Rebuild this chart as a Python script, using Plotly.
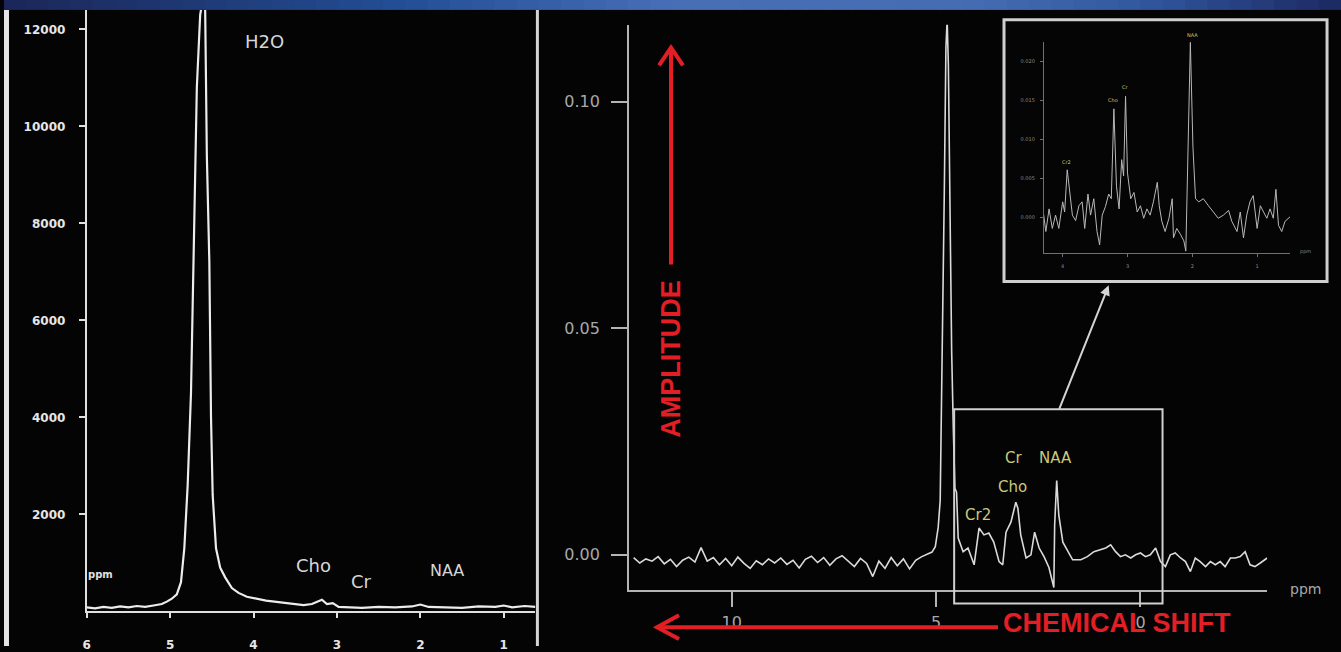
import plotly.graph_objects as go

W, H = 1341, 652

# ---------------- data ----------------
left_ppm = [6.00, 5.90, 5.80, 5.70, 5.60, 5.50, 5.40, 5.30, 5.20, 5.10,
            5.04, 4.98, 4.92, 4.87, 4.83, 4.79, 4.75, 4.72, 4.70, 4.68,
            4.64, 4.61, 4.58, 4.56, 4.53, 4.51, 4.49, 4.45, 4.40, 4.34,
            4.26, 4.18, 4.08, 3.97, 3.85, 3.70, 3.55, 3.40, 3.30, 3.22,
            3.18, 3.12, 3.05, 2.98, 2.90, 2.70, 2.50, 2.30, 2.10, 2.00,
            1.90, 1.70, 1.50, 1.30, 1.10, 1.00, 0.90, 0.75, 0.62]
left_signal = [80, 60, 90, 70, 100, 80, 110, 90, 120, 150,
               200, 260, 350, 600, 1300, 2600, 4500, 7200, 8700, 10800,
               12300, 12600, 12400, 9400, 7200, 4000, 2400, 1300, 900, 700,
               480, 380, 300, 260, 220, 190, 160, 130, 150, 210,
               240, 150, 170, 90, 80, 70, 90, 80, 100, 140,
               90, 80, 70, 100, 90, 120, 80, 110, 90]

right_ppm = [12.40, 12.25, 12.10, 11.95, 11.80, 11.65, 11.50, 11.35, 11.20, 11.05,
             10.90, 10.75, 10.60, 10.45, 10.30, 10.15, 10.00, 9.85, 9.70, 9.55,
             9.40, 9.25, 9.10, 8.95, 8.80, 8.65, 8.50, 8.35, 8.20, 8.05,
             7.90, 7.75, 7.60, 7.45, 7.30, 7.15, 7.00, 6.85, 6.70, 6.55,
             6.40, 6.25, 6.10, 5.95, 5.80, 5.65, 5.50, 5.35, 5.22, 5.10,
             5.02, 4.95, 4.90, 4.85, 4.80, 4.76, 4.73, 4.70, 4.66, 4.62,
             4.58, 4.54, 4.50, 4.46, 4.34, 4.22, 4.07, 3.95, 3.83, 3.71,
             3.59, 3.46, 3.37, 3.29, 3.17, 3.05, 3.00, 2.93, 2.80, 2.68,
             2.59, 2.48, 2.36, 2.24, 2.12, 2.10, 2.05, 2.00, 1.90, 1.78,
             1.66, 1.46, 1.30, 1.14, 0.98, 0.85, 0.73, 0.61, 0.49, 0.37,
             0.24, 0.12, 0.00, -0.12, -0.24, -0.37, -0.49, -0.61, -0.73, -0.85,
             -0.98, -1.10, -1.22, -1.34, -1.46, -1.59, -1.71, -1.83, -1.95, -2.07,
             -2.20, -2.32, -2.44, -2.56, -2.68, -2.80, -2.93, -3.10]
right_amp = [-0.0006, -0.0018, -0.0009, -0.0014, -0.0004, -0.0020, -0.0010, -0.0026, -0.0012, -0.0005,
             -0.0016, 0.0016, -0.0014, -0.0006, -0.0022, -0.0008, -0.0024, -0.0005, -0.0019, -0.0030,
             -0.0013, -0.0022, -0.0009, -0.0018, -0.0007, -0.0021, -0.0012, -0.0029, -0.0010, -0.0003,
             -0.0017, -0.0006, -0.0023, -0.0009, -0.0002, -0.0015, -0.0026, -0.0008, -0.0019, -0.0048,
             -0.0014, -0.0030, -0.0006, -0.0024, -0.0009, -0.0031, -0.0012, -0.0004, 0.0002, 0.0006,
             0.0018, 0.0060, 0.0120, 0.0420, 0.0800, 0.1120, 0.1180, 0.1080, 0.0700, 0.0450,
             0.0280, 0.0147, 0.0138, 0.0037, 0.0007, 0.0015, -0.0022, 0.0059, 0.0044, 0.0048,
             0.0028, -0.0015, -0.0022, 0.0050, 0.0072, 0.0116, 0.0103, 0.0044, -0.0007, 0.0000,
             0.0050, 0.0015, -0.0004, -0.0028, -0.0072, 0.0066, 0.0164, 0.0088, 0.0028, 0.0007,
             -0.0011, -0.0011, -0.0004, 0.0007, 0.0011, 0.0015, 0.0022, 0.0007, -0.0004, 0.0000,
             -0.0007, 0.0000, 0.0004, -0.0004, 0.0000, 0.0015, -0.0015, -0.0026, 0.0000, 0.0004,
             -0.0007, -0.0015, -0.0037, -0.0007, -0.0015, -0.0026, -0.0015, -0.0022, -0.0015, -0.0026,
             -0.0007, -0.0007, -0.0004, 0.0007, -0.0022, -0.0026, -0.0018, -0.0007]

inset_ppm = [4.31, 4.26, 4.21, 4.16, 4.11, 4.06, 4.00, 3.97, 3.93, 3.89,
             3.85, 3.80, 3.75, 3.70, 3.66, 3.61, 3.57, 3.52, 3.47, 3.43,
             3.39, 3.34, 3.29, 3.25, 3.21, 3.17, 3.13, 3.09, 3.06, 3.03,
             3.00, 2.95, 2.90, 2.85, 2.80, 2.75, 2.70, 2.65, 2.60, 2.54,
             2.51, 2.47, 2.42, 2.36, 2.31, 2.29, 2.24, 2.18, 2.13, 2.10,
             2.06, 2.03, 1.99, 1.95, 1.90, 1.83, 1.75, 1.67, 1.60, 1.52,
             1.44, 1.39, 1.31, 1.26, 1.21, 1.16, 1.11, 1.06, 1.00, 0.95,
             0.90, 0.85, 0.80, 0.75, 0.71, 0.67, 0.62, 0.57, 0.49]
inset_amp = [0.0014, -0.0018, 0.0011, -0.0014, 0.0003, -0.0014, 0.0020, 0.0007, 0.0061, 0.0028,
             0.0003, -0.0004, 0.0015, 0.0020, -0.0014, 0.0030, 0.0003, 0.0024, -0.0018, -0.0035,
             0.0003, 0.0014, 0.0030, 0.0024, 0.0139, 0.0040, 0.0011, 0.0074, 0.0053, 0.0155,
             0.0057, 0.0024, 0.0032, 0.0007, 0.0015, -0.0001, 0.0011, 0.0003, 0.0020, 0.0045,
             0.0015, -0.0005, -0.0018, -0.0001, 0.0024, -0.0026, -0.0014, -0.0022, -0.0030, -0.0043,
             0.0090, 0.0224, 0.0090, 0.0024, 0.0020, 0.0024, 0.0015, 0.0007, -0.0001, 0.0003,
             0.0009, -0.0005, -0.0018, 0.0007, -0.0026, 0.0003, 0.0020, 0.0028, -0.0014, 0.0015,
             0.0007, -0.0001, 0.0011, -0.0001, 0.0036, -0.0010, -0.0018, -0.0005, 0.0001]

left_xticks = [6, 5, 4, 3, 2, 1]
left_yticks = [2000, 4000, 6000, 8000, 10000, 12000]
right_xticks = [10, 5, 0]
right_yticks = [0.00, 0.05, 0.10]
right_ytext = ["0.00", "0.05", "0.10"]
inset_xticks = [4, 3, 2, 1]
inset_yticks = [0.000, 0.005, 0.010, 0.015, 0.020]
inset_ytext = ["0.000", "0.005", "0.010", "0.015", "0.020"]

left_peak_names = ["H2O", "Cho", "Cr", "NAA"]
metabolite_names = ["Cr2", "Cho", "Cr", "NAA"]
axis_titles = ["AMPLITUDE", "CHEMICAL SHIFT"]


# ---------------- helpers ----------------
def px(x):
    return x / W


def py(y):
    return 1 - y / H


RED = "#e31e25"
YEL = "#c9c97a"

fig = go.Figure()
fig.add_trace(go.Scatter(x=left_ppm, y=left_signal, mode="lines",
                         line=dict(color="#ececec", width=2.2),
                         xaxis="x", yaxis="y", showlegend=False, hoverinfo="skip"))
fig.add_trace(go.Scatter(x=right_ppm, y=right_amp, mode="lines",
                         line=dict(color="#dadada", width=1.6),
                         xaxis="x2", yaxis="y2", showlegend=False, hoverinfo="skip"))
fig.add_trace(go.Scatter(x=inset_ppm, y=inset_amp, mode="lines",
                         line=dict(color="#b8b8b8", width=1),
                         xaxis="x3", yaxis="y3", showlegend=False, hoverinfo="skip"))

left_font = dict(family="DejaVu Sans", size=12, color="#e6e6e6", weight="bold")
right_font = dict(family="DejaVu Sans", size=16, color="#a8a8a8")
inset_font = dict(family="DejaVu Sans", size=5, color="#8a8a8a")

common = dict(showgrid=False, zeroline=False, showline=True, ticks="outside", fixedrange=True)

fig.update_layout(
    width=W, height=H, autosize=False,
    margin=dict(l=0, r=0, t=0, b=0),
    paper_bgcolor="#040404", plot_bgcolor="rgba(0,0,0,0)",
    xaxis=dict(domain=[px(83), px(533)], range=[6.0, 0.62], anchor="y",
               tickvals=left_xticks, ticktext=[str(v) for v in left_xticks],
               linecolor="#e0e0e0", linewidth=2, tickcolor="#e0e0e0", tickwidth=2, ticklen=5,
               tickfont=left_font, ticklabelstandoff=16, **common),
    yaxis=dict(domain=[py(617), py(10)], range=[0, 12400], anchor="x",
               tickvals=left_yticks, ticktext=[str(v) for v in left_yticks],
               linecolor="#e0e0e0", linewidth=2, tickcolor="#e0e0e0", tickwidth=2, ticklen=6,
               tickfont=left_font, ticklabelstandoff=11, **common),
    xaxis2=dict(domain=[px(627), px(1267)], range=[12.51, -3.1], anchor="y2",
                tickvals=right_xticks, ticktext=[str(v) for v in right_xticks],
                linecolor="#b4b4b4", linewidth=2, tickcolor="#b4b4b4", tickwidth=2, ticklen=15,
                tickfont=right_font, ticklabelstandoff=2, **common),
    yaxis2=dict(domain=[py(595), py(25)], range=[-0.00766, 0.117], anchor="x2",
                tickvals=right_yticks, ticktext=right_ytext,
                linecolor="#b4b4b4", linewidth=2, tickcolor="#b4b4b4", tickwidth=2, ticklen=16,
                tickfont=right_font, ticklabelstandoff=8, **common),
    xaxis3=dict(domain=[px(1043), px(1290)], range=[4.29, 0.49], anchor="y3",
                tickvals=inset_xticks, ticktext=[str(v) for v in inset_xticks],
                linecolor="#707070", linewidth=1, tickcolor="#707070", tickwidth=1, ticklen=3,
                tickfont=inset_font, ticklabelstandoff=5, **common),
    yaxis3=dict(domain=[py(255), py(42)], range=[-0.0045, 0.0225], anchor="x3",
                tickvals=inset_yticks, ticktext=inset_ytext,
                linecolor="#707070", linewidth=1, tickcolor="#707070", tickwidth=1, ticklen=3,
                tickfont=inset_font, ticklabelstandoff=4, **common),
)

shapes = []
# top gradient band
stops = [(0.0, (27, 38, 88)), (0.3, (35, 78, 150)), (0.5, (72, 110, 182)),
         (0.72, (70, 108, 180)), (0.85, (50, 88, 160)), (1.0, (28, 40, 98))]


def grad(t):
    for (t0, c0), (t1, c1) in zip(stops[:-1], stops[1:]):
        if t0 <= t <= t1:
            f = (t - t0) / (t1 - t0)
            return "rgb(%d,%d,%d)" % tuple(round(a + (b - a) * f) for a, b in zip(c0, c1))
    return "rgb(%d,%d,%d)" % stops[-1][1]


N = 60
for i in range(N):
    shapes.append(dict(type="rect", xref="paper", yref="paper", layer="above",
                       x0=i / N, x1=(i + 1) / N + 0.001, y0=py(10), y1=1,
                       fillcolor=grad((i + 0.5) / N), line=dict(width=0)))
# left edge strip and panel separator
shapes.append(dict(type="rect", xref="paper", yref="paper", x0=0, x1=px(5), y0=0, y1=py(10),
                   fillcolor="#e4e4e4", line=dict(width=0), layer="above"))
shapes.append(dict(type="line", xref="paper", yref="paper", x0=px(535), x1=px(535), y0=0, y1=py(10),
                   line=dict(color="#d4d4d4", width=3), layer="above"))
# inset frame
shapes.append(dict(type="rect", xref="paper", yref="paper", x0=px(1003), x1=px(1327),
                   y0=py(284), y1=py(20), fillcolor="#050505",
                   line=dict(color="#cfcfcf", width=3), layer="below"))
# zoom box on right spectrum
shapes.append(dict(type="rect", xref="paper", yref="paper", x0=px(953), x1=px(1162),
                   y0=py(609), y1=py(413), line=dict(color="#d0d0d0", width=2), layer="above"))
# red arrows
shapes.append(dict(type="line", xref="paper", yref="paper", x0=px(669), x1=px(669), y0=py(267), y1=py(50),
                   line=dict(color=RED, width=4), layer="above"))
shapes.append(dict(type="path", xref="paper", yref="paper", layer="above",
                   path="M %f,%f L %f,%f L %f,%f" % (px(657), py(66), px(669), py(48), px(681), py(66)),
                   line=dict(color=RED, width=4)))
shapes.append(dict(type="line", xref="paper", yref="paper", x0=px(657), x1=px(997), y0=py(633), y1=py(633),
                   line=dict(color=RED, width=4), layer="above"))
shapes.append(dict(type="path", xref="paper", yref="paper", layer="above",
                   path="M %f,%f L %f,%f L %f,%f" % (px(677), py(621), px(655), py(633), px(677), py(645)),
                   line=dict(color=RED, width=4)))
fig.update_layout(shapes=shapes)

ann = []
# left panel labels
for name, x, y in zip(left_peak_names, [3.87, 3.28, 2.71, 1.675], [11750, 940, 613, 838]):
    ann.append(dict(text=name, x=x, y=y, xref="x", yref="y", showarrow=False,
                    xanchor="center", yanchor="middle",
                    font=dict(family="DejaVu Sans", size=18 if name != "NAA" else 16, color="#d6d6d6")))
ann.append(dict(text="ppm", x=5.84, y=756, xref="x", yref="y", showarrow=False,
                xanchor="center", yanchor="middle",
                font=dict(family="DejaVu Sans", size=10, color="#e0e0e0", weight="bold")))
# right panel metabolite labels
for name, x, y in zip(metabolite_names, [3.98, 3.12, 3.10, 2.07], [0.0088, 0.0149, 0.0214, 0.0214]):
    ann.append(dict(text=name, x=x, y=y, xref="x2", yref="y2", showarrow=False,
                    xanchor="center", yanchor="middle",
                    font=dict(family="DejaVu Sans", size=15, color=YEL)))
ann.append(dict(text="ppm", x=px(1305), y=py(594), xref="paper", yref="paper", showarrow=False,
                xanchor="center", yanchor="middle",
                font=dict(family="DejaVu Sans", size=14, color="#a8a8a8")))
# inset labels (placed above the inset's peaks)
for name, x, y in zip(metabolite_names, [1066, 1112, 1124, 1192], [163, 101, 88, 35]):
    ann.append(dict(text=name, x=px(x), y=py(y), xref="paper", yref="paper", showarrow=False,
                    xanchor="center", yanchor="middle",
                    font=dict(family="DejaVu Sans", size=5, color=YEL)))
ann.append(dict(text="ppm", x=px(1305), y=py(254), xref="paper", yref="paper", showarrow=False,
                xanchor="center", yanchor="middle",
                font=dict(family="DejaVu Sans", size=5, color="#8a8a8a")))
# connector arrow from zoom box to inset
ann.append(dict(text="", x=px(1108), y=py(288), xref="paper", yref="paper",
                ax=-50, ay=125, showarrow=True, arrowhead=2, arrowsize=1, arrowwidth=2,
                arrowcolor="#d4d4d4", standoff=0))
# red titles
red_font = dict(family="Liberation Sans, Arial, sans-serif", size=27, color=RED, weight="bold")
ann.append(dict(text=axis_titles[0], x=px(669), y=py(362), xref="paper", yref="paper",
                xanchor="center", yanchor="middle",
                showarrow=False, textangle=-90, font=red_font))
ann.append(dict(text=axis_titles[1], x=px(1116), y=py(629), xref="paper", yref="paper",
                xanchor="center", yanchor="middle",
                showarrow=False, font=red_font))
fig.update_layout(annotations=ann)

fig.write_html("out.html",
               config={"displayModeBar": False},
               post_script="document.body.style.margin='0';document.body.style.overflow='hidden';")
